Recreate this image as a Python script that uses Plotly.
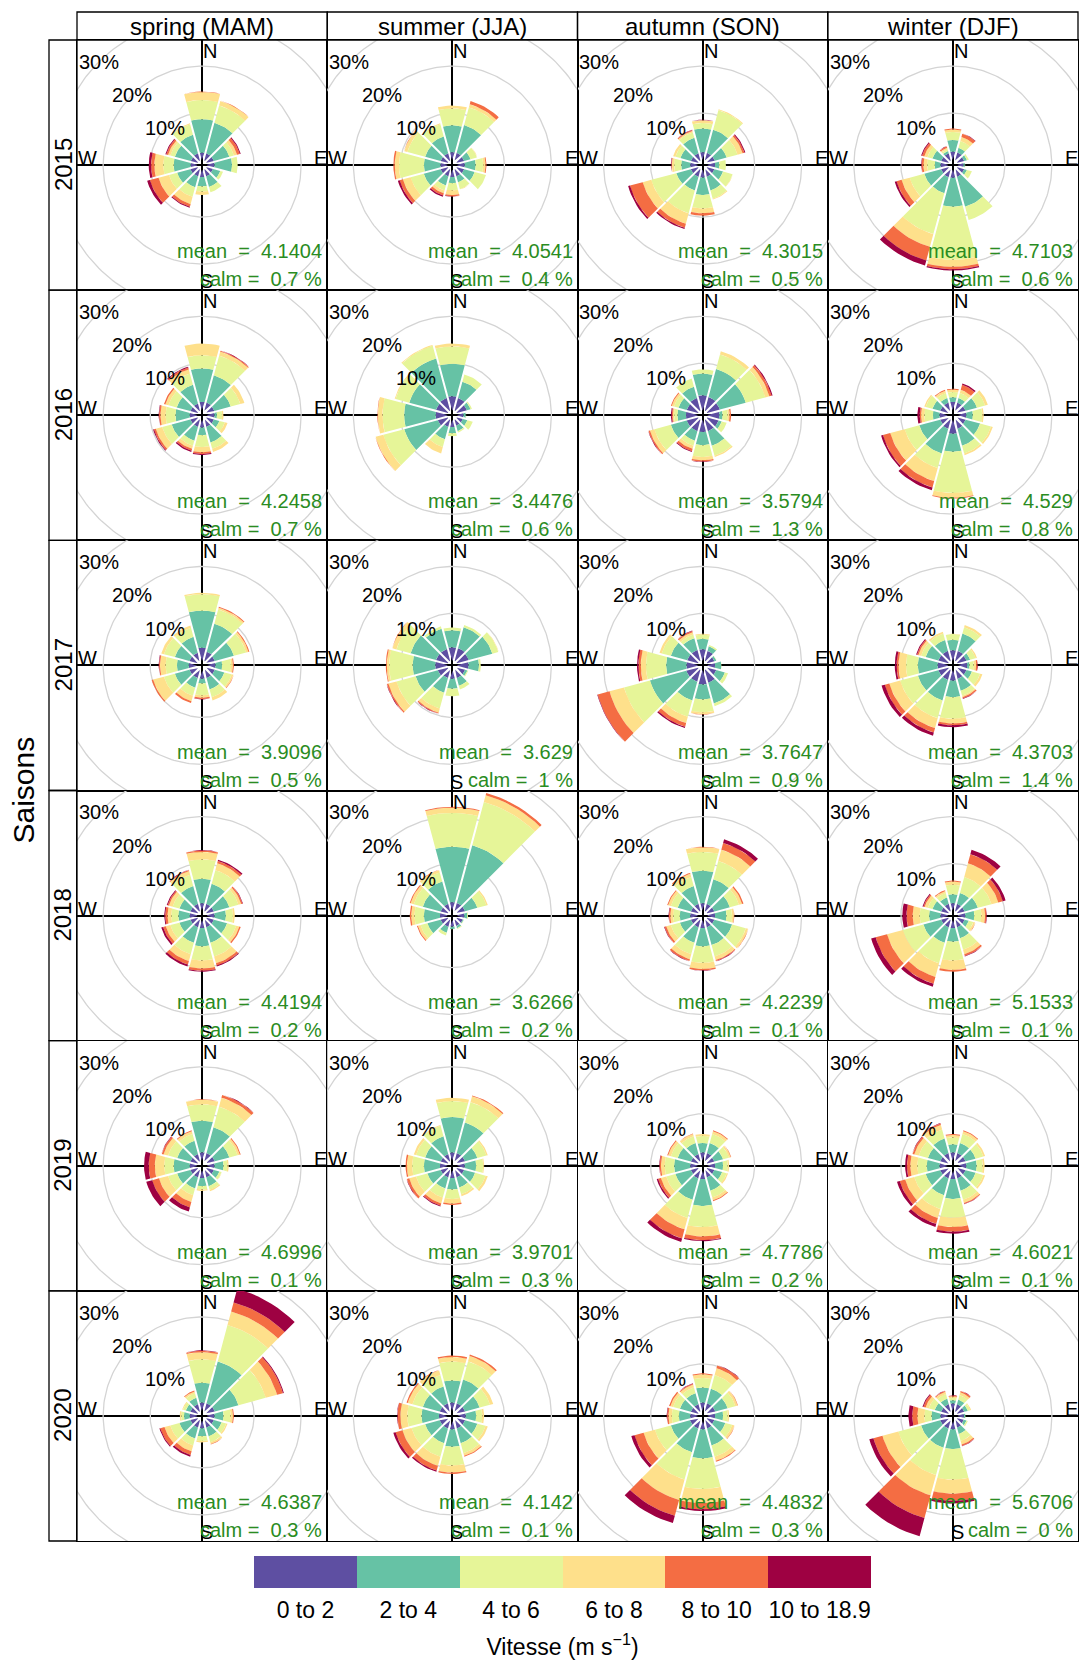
import numpy as np
import plotly.graph_objects as go

# ---------------- data ----------------
seasons = ["spring (MAM)", "summer (JJA)", "autumn (SON)", "winter (DJF)"]
years = ["2015", "2016", "2017", "2018", "2019", "2020"]
directions = [0, 30, 60, 90, 120, 150, 180, 210, 240, 270, 300, 330]
speed_bins = ["0 to 2", "2 to 4", "4 to 6", "6 to 8", "8 to 10", "10 to 18.9"]
bin_colors = ["#5E4FA2", "#66C2A5", "#E6F598", "#FEE08B", "#F46D43", "#9E0142"]
grid_pct = [10, 20, 30, 40]
grid_labels = [10, 20, 30]

mean_speed = [
    [4.1404, 4.0541, 4.3015, 4.7103],
    [4.2458, 3.4476, 3.5794, 4.529],
    [3.9096, 3.629, 3.7647, 4.3703],
    [4.4194, 3.6266, 4.2239, 5.1533],
    [4.6996, 3.9701, 4.7786, 4.6021],
    [4.6387, 4.142, 4.4832, 5.6706],
]
calm_pct = [
    [0.7, 0.4, 0.5, 0.6],
    [0.7, 0.6, 1.3, 0.8],
    [0.5, 1, 0.9, 1.4],
    [0.2, 0.2, 0.1, 0.1],
    [0.1, 0.3, 0.2, 0.1],
    [0.3, 0.1, 0.3, 0],
]

# cumulative frequency (%) per direction (N, NNE, ... NNW), one value per speed bin
spring_2015 = [[1.6, 8.7, 12.8, 14.5, 14.6, 14.6], [1.6, 8.3, 12.1, 13.1, 13.2, 13.2], [1.6, 5.0, 6.0, 6.7, 7.3, 7.5],
               [1.6, 5.3, 6.5, 6.5, 6.5, 6.5], [1.4, 3.0, 3.6, 3.6, 3.6, 3.6], [1.5, 3.8, 5.0, 5.0, 5.0, 5.0],
               [1.5, 3.5, 4.6, 5.3, 5.3, 5.3], [1.5, 3.9, 6.0, 7.6, 8.2, 8.4], [1.6, 4.5, 6.3, 8.6, 10.5, 11.1],
               [1.4, 5.0, 7.2, 9.1, 9.8, 10.3], [1.5, 5.0, 6.0, 6.5, 6.9, 7.1], [1.6, 5.7, 8.0, 8.2, 8.2, 8.2]]
summer_2015 = [[1.7, 7.4, 11.0, 11.6, 11.6, 11.6], [1.7, 7.8, 11.7, 12.4, 13.1, 13.1], [1.6, 3.0, 4.4, 4.5, 4.5, 4.5],
               [1.6, 3.9, 5.5, 6.0, 6.2, 6.2], [1.6, 3.9, 6.4, 6.4, 6.4, 6.4], [1.5, 2.8, 4.3, 4.4, 4.4, 4.4],
               [1.5, 2.8, 4.3, 5.3, 5.6, 5.7], [1.5, 3.5, 4.6, 5.2, 5.7, 6.0], [1.6, 5.3, 8.2, 9.9, 10.6, 11.0],
               [1.5, 5.0, 10.3, 11.2, 11.5, 11.5], [1.6, 5.0, 8.9, 9.6, 9.7, 9.7], [1.6, 5.3, 8.0, 8.2, 8.2, 8.2]]
autumn_2015 = [[1.7, 6.7, 7.9, 8.5, 8.5, 8.6], [1.7, 6.8, 11.1, 11.3, 11.3, 11.3], [1.7, 4.3, 6.7, 7.8, 8.2, 8.4],
               [1.6, 2.5, 3.9, 3.9, 3.9, 3.9], [1.6, 3.5, 5.6, 5.7, 5.7, 5.7], [1.6, 4.6, 6.4, 6.6, 6.6, 6.6],
               [1.6, 5.3, 8.2, 9.2, 9.7, 9.7], [1.6, 4.6, 9.6, 11.9, 12.8, 13.1], [1.6, 4.8, 10.3, 12.2, 15.0, 15.4],
               [1.6, 3.5, 5.0, 5.5, 5.6, 5.7], [1.6, 3.9, 5.0, 5.5, 5.5, 5.5], [1.6, 5.0, 6.2, 6.5, 6.7, 6.8]]
winter_2015 = [[1.8, 4.3, 6.0, 6.5, 6.7, 6.7], [1.8, 2.8, 4.3, 5.2, 5.9, 6.0], [1.5, 2.1, 2.5, 2.5, 2.5, 2.5],
               [1.2, 1.5, 1.6, 1.6, 1.6, 1.6], [1.5, 2.1, 3.2, 3.2, 3.2, 3.2], [1.6, 8.2, 11.1, 11.1, 11.1, 11.1],
               [1.7, 7.8, 19.1, 20.6, 21.1, 21.4], [1.7, 5.2, 14.2, 17.0, 20.0, 21.1], [1.6, 5.3, 8.5, 10.3, 11.4, 11.8],
               [1.6, 2.8, 4.4, 5.2, 5.6, 5.7], [1.6, 3.5, 4.6, 5.3, 5.8, 6.0], [1.6, 2.1, 2.5, 2.8, 3.1, 3.2]]

spring_2016 = [[1.8, 8.9, 11.7, 14.2, 14.2, 14.2], [1.8, 7.8, 12.1, 13.0, 13.2, 13.3], [1.7, 5.3, 7.4, 8.3, 8.3, 8.3],
               [1.6, 2.1, 3.2, 3.5, 3.5, 3.5], [1.6, 2.8, 4.0, 4.6, 4.6, 4.6], [1.6, 5.0, 6.4, 7.1, 7.1, 7.1],
               [1.6, 3.2, 5.7, 6.8, 7.2, 7.4], [1.6, 4.6, 5.7, 6.4, 6.8, 7.1], [1.6, 5.7, 7.8, 9.2, 9.6, 9.8],
               [1.6, 4.6, 6.7, 7.8, 8.1, 8.2], [1.6, 4.6, 6.4, 7.1, 7.4, 7.4], [1.6, 5.7, 8.2, 9.1, 9.5, 9.7]]
summer_2016 = [[3.0, 9.9, 13.6, 14.2, 14.2, 14.2], [2.8, 6.4, 8.0, 8.0, 8.0, 8.0], [2.2, 3.0, 3.3, 3.3, 3.3, 3.3],
               [1.3, 1.8, 1.9, 1.9, 1.9, 1.9], [1.3, 2.3, 3.5, 3.5, 3.5, 3.5], [1.3, 2.5, 2.8, 2.8, 2.8, 2.8],
               [1.5, 2.8, 3.4, 3.4, 3.4, 3.4], [1.6, 4.3, 6.0, 7.4, 7.4, 7.4], [2.2, 9.6, 14.2, 15.9, 16.0, 16.0],
               [2.5, 9.2, 13.8, 14.8, 14.9, 14.9], [2.6, 8.5, 11.5, 11.7, 11.7, 11.7], [2.8, 11.5, 14.3, 14.5, 14.5, 14.5]]
autumn_2016 = [[3.2, 7.8, 8.7, 8.7, 8.7, 8.7], [3.0, 9.2, 12.4, 13.1, 13.1, 13.1], [2.8, 8.5, 12.8, 13.7, 14.2, 14.4],
               [2.5, 3.2, 4.3, 4.7, 5.0, 5.0], [2.5, 3.2, 4.3, 4.3, 4.3, 4.3], [2.5, 5.7, 7.9, 8.2, 8.2, 8.2],
               [2.5, 5.3, 7.8, 8.5, 8.8, 8.9], [2.5, 4.6, 5.7, 6.4, 6.9, 7.1], [2.5, 6.0, 9.6, 10.6, 10.9, 11.0],
               [2.5, 4.3, 5.0, 5.3, 5.5, 5.7], [2.5, 4.3, 5.3, 5.8, 6.0, 6.0], [2.8, 5.3, 7.1, 7.1, 7.1, 7.1]]
winter_2016 = [[1.8, 2.8, 3.9, 4.4, 4.6, 4.6], [1.8, 2.8, 3.9, 4.6, 5.7, 6.0], [1.8, 4.3, 6.1, 6.7, 6.7, 6.7],
               [1.8, 3.2, 5.2, 5.5, 5.5, 5.5], [1.8, 5.0, 7.4, 7.8, 7.8, 7.8], [2.0, 5.7, 7.4, 7.8, 7.8, 7.8],
               [2.9, 6.7, 15.5, 16.5, 16.7, 16.7], [2.0, 7.4, 10.6, 13.5, 14.9, 15.5], [1.8, 6.4, 9.6, 12.8, 14.4, 14.8],
               [1.8, 3.2, 5.0, 5.7, 6.0, 6.5], [1.8, 3.5, 5.0, 5.3, 5.3, 5.3], [1.8, 2.8, 3.9, 4.4, 4.6, 4.6]]

spring_2017 = [[2.7, 10.6, 14.1, 14.4, 14.4, 14.4], [2.0, 8.2, 11.3, 11.7, 11.9, 11.9], [1.8, 6.0, 8.7, 9.2, 9.4, 9.4],
               [1.8, 3.2, 5.1, 5.5, 5.7, 5.7], [1.8, 3.9, 5.5, 5.9, 6.0, 6.0], [1.8, 4.3, 6.0, 6.7, 6.7, 6.7],
               [1.8, 2.8, 5.3, 5.8, 6.1, 6.2], [1.8, 3.9, 5.7, 6.9, 7.3, 7.3], [1.8, 5.0, 7.4, 9.8, 10.1, 10.1],
               [1.8, 4.3, 6.7, 7.9, 8.1, 8.2], [1.8, 5.0, 7.4, 8.0, 8.0, 8.0], [1.8, 5.3, 7.3, 7.8, 7.8, 7.8]]
summer_2017 = [[2.8, 6.4, 7.0, 7.0, 7.0, 7.0], [2.8, 7.4, 7.9, 7.9, 7.9, 7.9], [2.6, 7.8, 9.1, 9.2, 9.2, 9.2],
               [2.4, 4.6, 5.0, 5.0, 5.0, 5.0], [1.8, 2.3, 2.5, 2.5, 2.5, 2.5], [1.8, 3.5, 4.3, 4.3, 4.3, 4.3],
               [1.8, 3.9, 5.5, 5.5, 5.5, 5.5], [1.8, 5.0, 8.5, 9.4, 9.6, 9.7], [2.2, 7.1, 11.3, 13.1, 13.4, 13.5],
               [2.6, 7.4, 12.4, 12.9, 13.1, 13.1], [2.6, 8.2, 11.3, 12.2, 12.3, 12.3], [2.6, 7.1, 7.6, 7.6, 7.6, 7.6]]
autumn_2017 = [[2.4, 4.6, 5.5, 5.7, 5.7, 5.7], [2.2, 3.2, 3.5, 3.5, 3.5, 3.5], [1.6, 2.0, 2.1, 2.1, 2.1, 2.1],
               [1.6, 2.9, 3.0, 3.0, 3.0, 3.0], [2.0, 3.9, 4.6, 4.6, 4.6, 4.6], [2.8, 7.4, 8.0, 8.0, 8.0, 8.0],
               [3.0, 6.2, 8.9, 9.3, 9.4, 9.4], [2.6, 6.7, 10.3, 11.7, 12.5, 12.8], [2.6, 10.6, 16.3, 19.5, 22.1, 22.2],
               [2.4, 6.7, 11.0, 12.1, 12.6, 12.9], [2.4, 6.0, 8.0, 8.5, 8.5, 8.5], [2.4, 5.0, 5.8, 6.3, 6.6, 6.7]]
winter_2017 = [[2.2, 4.4, 5.6, 5.7, 5.7, 5.7], [2.2, 6.0, 7.4, 7.9, 7.9, 7.9], [2.0, 2.8, 4.0, 4.3, 4.3, 4.3],
               [2.0, 2.5, 3.4, 3.9, 4.2, 4.3], [2.0, 3.2, 5.0, 5.5, 5.5, 5.5], [2.0, 4.6, 5.7, 6.0, 6.3, 6.4],
               [2.2, 5.7, 10.3, 11.3, 11.7, 12.1], [2.2, 6.7, 10.6, 12.8, 13.8, 14.5], [2.2, 6.7, 10.6, 13.0, 14.0, 14.7],
               [2.2, 6.4, 8.9, 10.5, 10.9, 11.3], [2.2, 5.0, 6.0, 6.6, 6.9, 7.1], [2.2, 4.6, 6.0, 6.4, 6.4, 6.4]]

spring_2018 = [[1.6, 6.8, 10.9, 12.5, 12.8, 12.9], [1.6, 6.0, 9.0, 10.5, 11.0, 11.3], [1.6, 5.0, 7.0, 7.6, 7.9, 8.0],
               [1.6, 4.0, 5.5, 5.9, 5.9, 5.9], [1.6, 4.5, 6.5, 7.2, 7.5, 7.5], [1.6, 5.0, 8.0, 9.5, 10.0, 10.2],
               [1.6, 5.5, 8.5, 10.2, 10.7, 10.9], [1.6, 5.0, 7.5, 9.0, 9.8, 10.2], [1.6, 4.0, 6.0, 7.0, 7.6, 8.0],
               [1.6, 4.0, 5.5, 6.3, 6.8, 7.0], [1.6, 4.0, 5.5, 6.3, 6.6, 6.8], [1.6, 5.5, 8.0, 8.8, 9.0, 9.1]]
summer_2018 = [[1.8, 13.6, 20.8, 21.9, 22.1, 22.1], [1.8, 14.5, 24.0, 25.5, 26.0, 26.0], [1.8, 4.5, 6.5, 6.8, 6.8, 6.8],
               [1.5, 2.1, 2.3, 2.3, 2.3, 2.3], [1.3, 1.5, 1.6, 1.6, 1.6, 1.6], [1.3, 1.8, 2.0, 2.0, 2.0, 2.0],
               [1.3, 1.8, 1.9, 1.9, 1.9, 1.9], [1.5, 2.8, 3.4, 3.4, 3.4, 3.4], [1.6, 4.5, 6.0, 6.6, 6.8, 6.8],
               [1.6, 5.0, 7.0, 7.7, 8.0, 8.0], [1.6, 5.5, 7.5, 8.2, 8.4, 8.4], [1.6, 6.5, 8.5, 9.0, 9.1, 9.1]]
autumn_2018 = [[1.6, 8.5, 12.5, 13.5, 13.6, 13.6], [1.6, 7.0, 11.0, 13.5, 15.0, 15.8], [1.6, 5.0, 7.0, 7.7, 8.0, 8.0],
               [1.6, 4.0, 5.2, 5.6, 5.7, 5.7], [1.6, 5.5, 8.5, 9.0, 9.1, 9.1], [1.6, 5.5, 8.0, 8.8, 9.0, 9.1],
               [1.6, 5.5, 9.0, 10.3, 10.6, 10.7], [1.6, 5.0, 7.5, 8.6, 9.0, 9.1], [1.6, 4.0, 6.0, 7.0, 7.4, 7.5],
               [1.6, 3.8, 5.2, 5.8, 6.1, 6.2], [1.6, 4.5, 6.0, 6.6, 6.8, 6.8], [1.6, 5.5, 7.5, 8.2, 8.4, 8.4]]
winter_2018 = [[1.6, 3.5, 5.5, 6.2, 6.4, 6.4], [1.6, 4.0, 7.5, 10.5, 12.5, 13.5], [1.6, 4.5, 7.5, 9.0, 10.0, 10.6],
               [1.6, 3.5, 5.0, 5.8, 6.1, 6.2], [1.6, 2.5, 3.5, 3.9, 4.0, 4.0], [1.6, 4.0, 6.5, 7.5, 7.9, 8.0],
               [1.6, 4.5, 8.5, 10.5, 10.9, 10.9], [1.6, 5.0, 9.5, 12.5, 14.0, 14.7], [1.6, 5.5, 10.0, 13.5, 16.0, 17.0],
               [1.6, 4.0, 6.0, 7.5, 8.8, 9.7], [1.6, 3.5, 4.5, 5.2, 5.5, 5.7], [1.6, 3.0, 4.0, 4.4, 4.6, 4.6]]

spring_2019 = [[1.8, 8.5, 12.0, 13.0, 13.1, 13.1], [1.8, 7.5, 12.0, 14.0, 14.6, 14.7], [1.8, 5.0, 6.8, 7.3, 7.5, 7.5],
               [1.6, 3.5, 4.3, 4.6, 4.6, 4.6], [1.6, 2.8, 3.3, 3.4, 3.4, 3.4], [1.6, 3.5, 4.3, 4.6, 4.6, 4.6],
               [1.6, 3.3, 4.0, 4.3, 4.3, 4.3], [1.6, 4.0, 5.5, 7.0, 8.2, 9.1], [1.6, 4.5, 6.5, 8.5, 10.0, 11.3],
               [1.6, 5.0, 7.0, 9.0, 10.3, 11.3], [1.6, 4.5, 6.5, 7.5, 7.9, 8.0], [1.6, 4.5, 6.0, 6.6, 6.8, 6.8]]
summer_2019 = [[1.8, 9.3, 12.7, 13.4, 13.4, 13.4], [1.8, 8.5, 13.0, 14.3, 14.5, 14.5], [1.8, 4.5, 6.5, 6.8, 6.8, 6.8],
               [1.6, 4.0, 5.5, 5.7, 5.7, 5.7], [1.6, 4.0, 6.3, 6.8, 6.8, 6.8], [1.6, 3.8, 5.3, 5.7, 5.7, 5.7],
               [1.6, 4.0, 6.0, 7.0, 7.3, 7.3], [1.6, 4.0, 6.0, 7.3, 7.8, 8.0], [1.6, 4.5, 7.0, 8.5, 9.0, 9.1],
               [1.6, 5.0, 7.5, 8.6, 8.9, 8.9], [1.6, 5.0, 7.0, 7.5, 7.5, 7.5], [1.6, 5.5, 7.8, 8.0, 8.0, 8.0]]
autumn_2019 = [[1.8, 3.8, 5.3, 5.7, 5.7, 5.7], [1.8, 4.0, 6.0, 6.6, 6.8, 6.8], [1.6, 3.5, 4.8, 5.2, 5.3, 5.3],
               [1.6, 3.3, 4.3, 4.6, 4.6, 4.6], [1.6, 3.3, 4.3, 4.6, 4.6, 4.6], [1.6, 4.5, 6.0, 6.6, 6.8, 6.8],
               [1.8, 7.5, 12.0, 14.0, 14.8, 15.0], [1.8, 6.5, 10.5, 13.0, 15.0, 15.8], [1.6, 5.0, 7.0, 8.2, 8.8, 9.1],
               [1.6, 5.0, 7.0, 7.8, 8.1, 8.2], [1.6, 4.5, 6.0, 6.6, 6.8, 6.8], [1.6, 4.0, 5.5, 6.0, 6.1, 6.1]]
winter_2019 = [[1.8, 3.5, 5.0, 5.5, 5.7, 5.7], [1.8, 4.0, 6.0, 6.6, 6.8, 6.8], [1.8, 4.0, 5.7, 6.1, 6.1, 6.1],
               [1.8, 4.0, 5.3, 5.7, 5.7, 5.7], [1.8, 4.0, 5.7, 6.1, 6.1, 6.1], [1.8, 4.5, 6.5, 7.2, 7.4, 7.5],
               [1.8, 6.0, 10.0, 12.0, 13.0, 13.4], [1.8, 5.5, 8.5, 10.5, 11.8, 12.5], [1.8, 5.0, 7.5, 9.5, 10.7, 11.3],
               [1.8, 4.5, 6.5, 8.0, 8.7, 9.1], [1.8, 4.5, 6.5, 7.5, 7.9, 8.0], [1.8, 5.0, 7.0, 8.0, 8.3, 8.4]]

spring_2020 = [[1.8, 6.0, 11.0, 12.5, 12.8, 12.9], [1.8, 11.0, 19.0, 22.0, 24.0, 27.0], [1.8, 7.0, 13.0, 15.5, 16.8, 17.0],
               [1.6, 3.5, 5.0, 5.5, 5.7, 5.7], [1.6, 3.3, 4.3, 4.6, 4.6, 4.6], [1.6, 3.5, 4.8, 5.2, 5.3, 5.3],
               [1.6, 3.3, 4.3, 4.6, 4.6, 4.6], [1.6, 4.0, 5.5, 6.8, 7.6, 8.0], [1.6, 4.0, 6.0, 7.3, 8.2, 8.4],
               [1.6, 2.8, 3.4, 3.7, 3.7, 3.7], [1.6, 2.6, 3.2, 3.4, 3.4, 3.4], [1.6, 3.0, 4.0, 4.4, 4.6, 4.6]]
summer_2020 = [[1.8, 6.5, 10.5, 11.5, 11.8, 11.8], [1.8, 7.0, 11.0, 12.2, 12.5, 12.5], [1.8, 5.0, 7.3, 8.0, 8.0, 8.0],
               [1.8, 4.0, 5.3, 5.7, 5.7, 5.7], [1.8, 4.5, 6.3, 6.8, 6.8, 6.8], [1.8, 5.0, 7.2, 7.8, 8.0, 8.0],
               [1.8, 5.5, 9.5, 11.0, 11.3, 11.3], [1.8, 5.0, 8.0, 10.0, 11.0, 11.3], [1.8, 5.0, 8.0, 10.0, 11.5, 12.0],
               [1.8, 5.5, 8.5, 10.0, 10.6, 10.7], [1.8, 5.5, 7.8, 8.8, 9.1, 9.1], [1.8, 5.5, 8.0, 9.0, 9.1, 9.1]]
autumn_2020 = [[1.8, 5.0, 7.0, 7.8, 8.0, 8.0], [1.8, 5.0, 8.0, 9.5, 10.1, 10.2], [1.8, 4.5, 6.2, 6.7, 6.8, 6.8],
               [1.6, 3.3, 4.3, 4.6, 4.6, 4.6], [1.6, 4.0, 5.5, 6.0, 6.1, 6.1], [1.8, 5.5, 8.0, 8.9, 9.1, 9.1],
               [1.8, 8.0, 14.5, 17.5, 18.8, 19.2], [1.8, 7.0, 13.0, 17.5, 21.0, 22.6], [1.8, 6.0, 9.5, 12.0, 14.0, 14.7],
               [1.6, 4.0, 5.5, 6.2, 6.5, 6.6], [1.6, 4.0, 5.5, 6.1, 6.4, 6.4], [1.6, 4.0, 5.3, 5.9, 6.1, 6.2]]
winter_2020 = [[1.6, 2.3, 2.8, 3.1, 3.3, 3.4], [1.6, 2.6, 3.6, 4.2, 4.5, 4.6], [1.5, 2.3, 2.8, 3.0, 3.0, 3.0],
               [1.3, 1.6, 1.7, 1.7, 1.7, 1.7], [1.4, 2.0, 2.3, 2.3, 2.3, 2.3], [1.6, 3.0, 4.5, 5.3, 5.6, 5.7],
               [1.8, 6.0, 12.5, 15.5, 17.0, 17.6], [1.8, 6.0, 12.0, 16.5, 21.5, 25.5], [1.8, 6.0, 11.0, 14.5, 16.5, 17.4],
               [1.6, 3.5, 5.0, 6.5, 7.6, 8.4], [1.6, 3.0, 4.3, 5.0, 5.5, 5.7], [1.6, 2.8, 3.8, 4.3, 4.5, 4.6]]

roses = [
    [spring_2015, summer_2015, autumn_2015, winter_2015],
    [spring_2016, summer_2016, autumn_2016, winter_2016],
    [spring_2017, summer_2017, autumn_2017, winter_2017],
    [spring_2018, summer_2018, autumn_2018, winter_2018],
    [spring_2019, summer_2019, autumn_2019, winter_2019],
    [spring_2020, summer_2020, autumn_2020, winter_2020],
]

# ---------------- layout geometry (pixels) ----------------
FIG_W, FIG_H = 1080, 1660
GX0, GX1 = 77, 1078      # panel grid left/right
GY0, GY1 = 40, 1541      # panel grid top/bottom
STRIP_TOP = 12
STRIP_LEFT = 49
NC, NR = 4, 6
CW = (GX1 - GX0) / NC
CH = (GY1 - GY0) / NR
PX_PER_PCT = 4.7
HOLE = 5.0 / PX_PER_PCT
HALF = CW / 2 / PX_PER_PCT
GAP = 0.42
FONT = "Liberation Sans, Arial, sans-serif"
GREEN = "#2A8C22"


def fx(px):
    return px / FIG_W


def fy(py):
    return 1 - py / FIG_H


def sector(theta_c, r0, r1, n=10):
    def dlt(r):
        return np.degrees(np.arcsin(min(1.0, GAP / 2 / r)))
    a_out = np.radians(np.linspace(theta_c - 15 + dlt(r1), theta_c + 15 - dlt(r1), n))
    a_in = np.radians(np.linspace(theta_c + 15 - dlt(r0), theta_c - 15 + dlt(r0), n))
    xs = np.concatenate([r1 * np.sin(a_out), r0 * np.sin(a_in), [r1 * np.sin(a_out[0])]])
    ys = np.concatenate([r1 * np.cos(a_out), r0 * np.cos(a_in), [r1 * np.cos(a_out[0])]])
    return list(xs) + [None], list(ys) + [None]


fig = go.Figure()
annotations = []
shapes = []
circ = np.radians(np.linspace(0, 360, 241))

for r in range(NR):
    for c in range(NC):
        i = r * NC + c + 1
        xa = "x" if i == 1 else f"x{i}"
        ya = "y" if i == 1 else f"y{i}"
        px0 = GX0 + c * CW
        py0 = GY0 + r * CH
        axis_style = dict(range=[-HALF, HALF], showgrid=False, showticklabels=False, ticks="",
                          zeroline=True, zerolinecolor="black", zerolinewidth=1.5,
                          showline=True, mirror=True, linecolor="black", linewidth=1.3,
                          fixedrange=True, automargin=False)
        fig.layout["xaxis" if i == 1 else f"xaxis{i}"] = dict(
            domain=[fx(px0), fx(px0 + CW)], anchor=ya, **axis_style)
        fig.layout["yaxis" if i == 1 else f"yaxis{i}"] = dict(
            domain=[fy(py0 + CH), fy(py0)], anchor=xa, **axis_style)

        # grid circles
        for p in grid_pct:
            rr = HOLE + p
            fig.add_trace(go.Scatter(x=rr * np.sin(circ), y=rr * np.cos(circ), mode="lines",
                                     line=dict(color="#D4D4D4", width=1.3), hoverinfo="skip",
                                     showlegend=False, xaxis=xa, yaxis=ya))
        # wind rose sectors
        data = roses[r][c]
        for k in range(len(speed_bins)):
            xs, ys = [], []
            for d, th in enumerate(directions):
                lo = HOLE + (data[d][k - 1] if k > 0 else 0.0)
                hi = HOLE + data[d][k]
                if hi - lo > 0.01:
                    sx, sy = sector(th, lo, hi)
                    xs += sx
                    ys += sy
            if xs:
                fig.add_trace(go.Scatter(x=xs, y=ys, mode="lines", fill="toself",
                                         fillcolor=bin_colors[k], line=dict(width=0, color=bin_colors[k]),
                                         hoverinfo="skip", showlegend=False, xaxis=xa, yaxis=ya))
        # percentage labels
        for p in grid_labels:
            rr = HOLE + p
            annotations.append(dict(x=-rr * np.sin(np.radians(45)), y=rr * np.cos(np.radians(45)),
                                    xref=xa, yref=ya, text=f"{p}%", showarrow=False,
                                    xanchor="center", yanchor="middle",
                                    font=dict(size=20, color="black", family=FONT)))
        # compass labels
        lab = dict(xref=xa, yref=ya, showarrow=False, font=dict(size=20, color="black", family=FONT))
        annotations.append(dict(x=0, y=HALF, text="N", xanchor="left", yanchor="top", xshift=-1, yshift=2, **lab))
        annotations.append(dict(x=0, y=-HALF, text="S", xanchor="left", yanchor="bottom", xshift=-4, yshift=-4, **lab))
        annotations.append(dict(x=HALF, y=0, text="E", xanchor="right", yanchor="bottom", xshift=2, yshift=-6, **lab))
        annotations.append(dict(x=-HALF, y=0, text="W", xanchor="left", yanchor="bottom", xshift=-1, yshift=-6, **lab))
        # statistics
        g = dict(xref=xa, yref=ya, showarrow=False, xanchor="right", yanchor="bottom",
                 font=dict(size=20, color=GREEN, family=FONT))
        nb = "\u00a0"
        annotations.append(dict(x=HALF, y=-HALF, xshift=-3, yshift=26,
                                text=f"mean{nb*2}={nb*2}{mean_speed[r][c]:g}", **g))
        annotations.append(dict(x=HALF, y=-HALF, xshift=-3, yshift=-2,
                                text=f"calm{nb}={nb*2}{calm_pct[r][c]:g}{nb}%", **g))

# strips
for c, s in enumerate(seasons):
    px0 = GX0 + c * CW
    shapes.append(dict(type="rect", xref="paper", yref="paper", x0=fx(px0), x1=fx(px0 + CW),
                       y0=fy(GY0), y1=fy(STRIP_TOP), line=dict(color="black", width=1.3)))
    annotations.append(dict(x=fx(px0 + CW / 2), y=fy((STRIP_TOP + GY0) / 2), xref="paper", yref="paper",
                            text=s, showarrow=False, xanchor="center", yanchor="middle",
                            font=dict(size=24, color="black", family=FONT)))
for r, yv in enumerate(years):
    py0 = GY0 + r * CH
    shapes.append(dict(type="rect", xref="paper", yref="paper", x0=fx(STRIP_LEFT), x1=fx(GX0),
                       y0=fy(py0 + CH), y1=fy(py0), line=dict(color="black", width=1.3)))
    annotations.append(dict(x=fx((STRIP_LEFT + GX0) / 2), y=fy(py0 + CH / 2), xref="paper", yref="paper",
                            text=yv, textangle=-90, showarrow=False, xanchor="center", yanchor="middle",
                            font=dict(size=24, color="black", family=FONT)))
annotations.append(dict(x=fx(23), y=fy((GY0 + GY1) / 2), xref="paper", yref="paper", text="Saisons",
                        textangle=-90, showarrow=False, xanchor="center", yanchor="middle",
                        font=dict(size=30, color="black", family=FONT)))

# colour key as a bar strip
fig.add_trace(go.Bar(x=speed_bins, y=[1] * len(speed_bins), marker=dict(color=bin_colors, line=dict(width=0)),
                     hoverinfo="skip", showlegend=False, xaxis="x25", yaxis="y25"))
fig.layout["xaxis25"] = dict(domain=[fx(254), fx(871)], anchor="y25", showline=False, showgrid=False,
                             zeroline=False, ticks="", ticklabelstandoff=6, automargin=False,
                             tickfont=dict(size=23, color="black", family=FONT),
                             title=dict(text="Vitesse (m s<sup>\u22121</sup>)", standoff=17,
                                        font=dict(size=23, color="black", family=FONT)),
                             fixedrange=True)
fig.layout["yaxis25"] = dict(domain=[fy(1588), fy(1556)], anchor="x25", range=[0, 1], visible=False,
                             fixedrange=True)

fig.update_layout(width=FIG_W, height=FIG_H, margin=dict(l=0, r=0, t=0, b=0),
                  paper_bgcolor="white", plot_bgcolor="white", bargap=0,
                  annotations=annotations, shapes=shapes, showlegend=False,
                  font=dict(family=FONT))

fig.write_html("out.html", config={"displayModeBar": False},
               post_script="document.body.style.margin='0';")
